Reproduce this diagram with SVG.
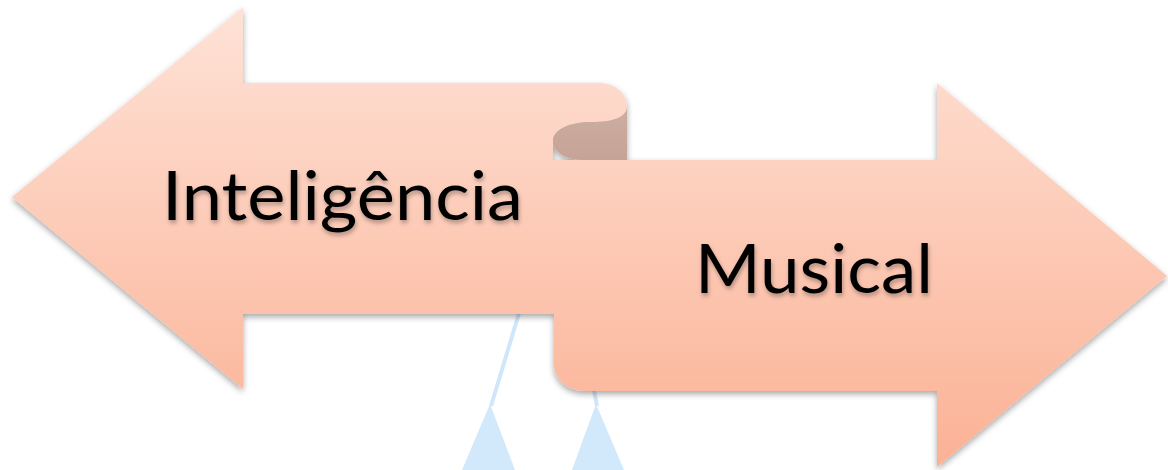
<svg xmlns="http://www.w3.org/2000/svg" width="1168" height="470" viewBox="0 0 1168 470">
  <defs>
    <linearGradient id="peach" gradientUnits="userSpaceOnUse" x1="0" y1="0" x2="0" y2="470">
      <stop offset="0" stop-color="#fee3d8"/>
      <stop offset="1" stop-color="#fbb194"/>
    </linearGradient>
    <linearGradient id="fold" gradientUnits="userSpaceOnUse" x1="0" y1="100" x2="0" y2="160">
      <stop offset="0" stop-color="#cfb0a4"/>
      <stop offset="1" stop-color="#c5a396"/>
    </linearGradient>
    <filter id="shadow" x="-10%" y="-10%" width="120%" height="130%">
      <feDropShadow dx="0" dy="3" stdDeviation="3" flood-color="#000" flood-opacity="0.35"/>
    </filter>
    <filter id="tshadow" x="-5%" y="-20%" width="110%" height="150%">
      <feDropShadow dx="1" dy="3" stdDeviation="2" flood-color="#000" flood-opacity="0.3"/>
    </filter>
  </defs>
  <style>
    .line { stroke: #cfe6fb; stroke-width: 4; fill: none; }
    .tri { fill: #d2e8fb; }
    .shape { fill: url(#peach); }
    .label { font-family: Lato, "Open Sans", "Liberation Sans", sans-serif; font-size: 67px; fill: #000; }
  </style>
  <rect width="1168" height="470" fill="#ffffff"/>
  <g id="connectors">
    <line class="line" x1="523" y1="300" x2="491" y2="406"/>
    <line class="line" x1="593" y1="385" x2="597" y2="406"/>
    <polygon class="tri" points="490,404 462,470 515,470"/>
    <polygon class="tri" points="596,404 572,470 624,470"/>
  </g>
  <g id="arrows" filter="url(#shadow)">
    <path class="shape" d="M12,197 L243,7 L243,83 L598,83 C615,83 627,93 627,106 C627,118 612,122 592,122 C568,122 553,130 553,141 L553,160 L620,160 L620,314 L243,314 L243,389 Z"/>
    <path class="shape" d="M585,160 L937,160 L937,83 L1167,276 L937,467 L937,391 L585,391 C568,391 554,380 554,364 L554,160 Z"/>
    <path fill="url(#fold)" d="M627,106 C627,118 612,122 592,122 C568,122 553,130 553,141 C553,152 565,160 585,160 L627,160 Z"/>
  </g>
  <g id="node-inteligencia">
    <text class="label" x="162" y="220" textLength="361" lengthAdjust="spacingAndGlyphs" filter="url(#tshadow)">Inteligência</text>
  </g>
  <g id="node-musical">
    <text class="label" x="695" y="293" textLength="238" lengthAdjust="spacingAndGlyphs" filter="url(#tshadow)">Musical</text>
  </g>
</svg>
